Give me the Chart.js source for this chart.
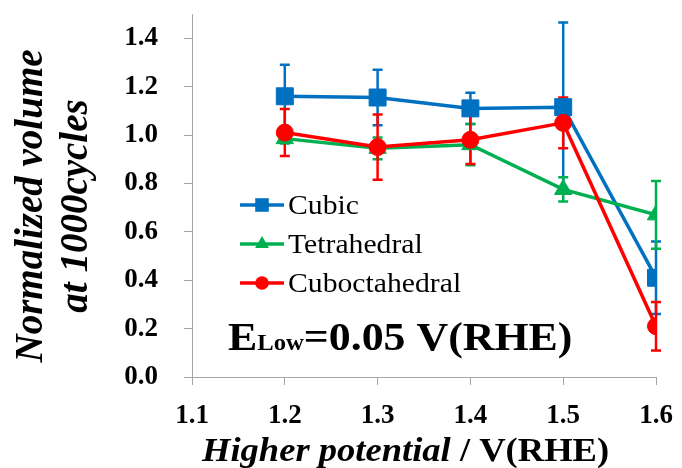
<!DOCTYPE html>
<html>
<head>
<meta charset="utf-8">
<script src="https://cdn.jsdelivr.net/npm/chart.js@4.4.1/dist/chart.umd.min.js"></script>
<style>
html, body { margin: 0; padding: 0; background: #fff; }
#wrap { width: 682px; height: 468px; }
</style>
</head>
<body>
<div id="wrap"><canvas id="volChart"></canvas></div>
<script>
// data
var potentials = [1.2, 1.3, 1.4, 1.5, 1.6];
var cubic = [1.16, 1.155, 1.11, 1.115, 0.41];
var cubicErr = [0.13, 0.115, 0.065, 0.35, 0.15];
var tetra = [0.985, 0.945, 0.96, 0.775, 0.67];
var tetraErr = [0.02, 0.045, 0.085, 0.05, 0.14];
var cubocta = [1.01, 0.95, 0.98, 1.05, 0.21];
var cuboctaErr = [0.097, 0.135, 0.1, 0.105, 0.1];
var seriesNames = ['Cubic', 'Tetrahedral', 'Cuboctahedral'];
var xTicks = [1.1, 1.2, 1.3, 1.4, 1.5, 1.6];
var yTicks = [0, 0.2, 0.4, 0.6, 0.8, 1.0, 1.2, 1.4];

var serif = '"Liberation Serif"';
var axisGray = '#a6a6a6';

function points(vals) {
	return potentials.map(function (p, i) {
		return { x: p, y: vals[i] };
	});
}

var errors = [cubicErr, tetraErr, cuboctaErr];

// error bars, drawn under the lines
var errorBars = {
	id: 'errorBars',
	beforeDatasetsDraw: function (chart) {
		var ctx = chart.ctx;
		var xs = chart.scales.x, ys = chart.scales.y;
		ctx.save();
		chart.data.datasets.forEach(function (ds, d) {
			ctx.strokeStyle = ds.borderColor;
			ctx.lineWidth = 2.5;
			ds.data.forEach(function (pt, i) {
				var px = xs.getPixelForValue(pt.x);
				var top = ys.getPixelForValue(pt.y + errors[d][i]);
				var bot = ys.getPixelForValue(pt.y - errors[d][i]);
				ctx.beginPath();
				ctx.moveTo(px, top); ctx.lineTo(px, bot);
				ctx.moveTo(px - 5, top); ctx.lineTo(px + 5, top);
				ctx.moveTo(px - 5, bot); ctx.lineTo(px + 5, bot);
				ctx.stroke();
			});
		});
		ctx.restore();
	}
};

function marker(ctx, style, x, y, r) {
	ctx.beginPath();
	if (style === 'rect') {
		var s = r * Math.SQRT1_2;
		ctx.rect(x - s, y - s, 2 * s, 2 * s);
	} else if (style === 'triangle') {
		ctx.moveTo(x, y - r);
		ctx.lineTo(x + r * 0.866, y + r / 2);
		ctx.lineTo(x - r * 0.866, y + r / 2);
		ctx.closePath();
	} else {
		ctx.arc(x, y, r, 0, Math.PI * 2);
	}
	ctx.fill();
}

// text stretched a little wider, like the original figure
function wideText(ctx, str, x, y, sx) {
	ctx.save();
	ctx.translate(x, y);
	ctx.scale(sx, 1);
	ctx.fillText(str, 0, 0);
	ctx.restore();
	return ctx.measureText(str).width * sx;
}

// legend inside the plot, titles and the E_low note
var extras = {
	id: 'extras',
	afterDraw: function (chart) {
		var ctx = chart.ctx;
		ctx.save();
		ctx.textBaseline = 'alphabetic';
		ctx.textAlign = 'left';
		var rows = [205, 244, 283];
		chart.data.datasets.forEach(function (ds, i) {
			var y = rows[i];
			ctx.strokeStyle = ds.borderColor;
			ctx.fillStyle = ds.borderColor;
			ctx.lineWidth = 3.5;
			ctx.beginPath();
			ctx.moveTo(240, y); ctx.lineTo(284, y);
			ctx.stroke();
			marker(ctx, ds.pointStyle, 262, y, ds.pointRadius * 0.8);
			ctx.fillStyle = '#000';
			ctx.font = '27px ' + serif;
			wideText(ctx, seriesNames[i], 288, y + 9, 1.1);
		});

		// E_Low = 0.05 V(RHE)
		ctx.fillStyle = '#000';
		var x = 228, base = 350;
		ctx.font = 'bold 41px ' + serif;
		x += wideText(ctx, 'E', x, base, 1.07);
		ctx.font = 'bold 23px ' + serif;
		x += wideText(ctx, 'Low', x, base, 1.07);
		ctx.font = 'bold 41px ' + serif;
		wideText(ctx, '=0.05 V(RHE)', x, base, 1.07);

		// x title
		x = 202; base = 461;
		ctx.font = 'italic bold 34px ' + serif;
		x += wideText(ctx, 'Higher potential', x, base, 1.075);
		ctx.font = 'bold 34px ' + serif;
		wideText(ctx, ' / V(RHE)', x, base, 1.075);

		// y title, two lines
		ctx.translate(0, 206);
		ctx.rotate(-Math.PI / 2);
		ctx.textAlign = 'center';
		ctx.font = 'italic bold 39px ' + serif;
		ctx.fillText('Normalized volume', 0, 42);
		ctx.fillText('at 1000cycles', 0, 87);
		ctx.restore();
	}
};

var ctx = document.getElementById('volChart').getContext('2d');
var chart = new Chart(ctx, {
	type: 'line',
	data: {
		datasets: [
			{
				label: seriesNames[0],
				data: points(cubic),
				borderColor: '#0070C0',
				backgroundColor: '#0070C0',
				pointStyle: 'rect',
				pointRadius: 12,
				order: 3
			},
			{
				label: seriesNames[1],
				data: points(tetra),
				borderColor: '#00B050',
				backgroundColor: '#00B050',
				pointStyle: 'triangle',
				pointRadius: 10,
				order: 2
			},
			{
				label: seriesNames[2],
				data: points(cubocta),
				borderColor: '#FF0000',
				backgroundColor: '#FF0000',
				pointStyle: 'circle',
				pointRadius: 8.5,
				order: 1
			}
		]
	},
	options: {
		animation: false,
		responsive: true,
		maintainAspectRatio: false,
		devicePixelRatio: 1,
		layout: { padding: { top: 14, right: 26, left: 0, bottom: 0 } },
		elements: {
			line: { borderWidth: 3.5, tension: 0, fill: false },
			point: { borderWidth: 1, hoverRadius: 8 }
		},
		plugins: {
			legend: { display: false },
			tooltip: { enabled: false }
		},
		scales: {
			x: {
				type: 'linear',
				min: 1.1,
				max: 1.6,
				afterBuildTicks: function (scale) {
					scale.ticks = xTicks.map(function (v) { return { value: v }; });
				},
				afterFit: function (scale) {
					scale.height = 91;
					scale.paddingLeft = 0;
					scale.paddingRight = 0;
				},
				ticks: {
					color: '#000',
					padding: 15,
					maxRotation: 0,
					font: { family: serif, size: 27, weight: 'bold' },
					callback: function (v) { return v.toFixed(1); }
				},
				grid: { drawOnChartArea: false, tickLength: 8, color: axisGray },
				border: { color: axisGray, width: 1 }
			},
			y: {
				min: 0,
				max: 1.5,
				afterBuildTicks: function (scale) {
					scale.ticks = yTicks.map(function (v) { return { value: v }; });
				},
				afterFit: function (scale) {
					scale.width = 192;
					scale.paddingTop = 0;
					scale.paddingBottom = 0;
				},
				ticks: {
					color: '#000',
					padding: 26,
					font: { family: serif, size: 27, weight: 'bold' },
					callback: function (v) { return v.toFixed(1); }
				},
				grid: { drawOnChartArea: false, tickLength: 8, color: axisGray },
				border: { color: axisGray, width: 1 }
			}
		}
	},
	plugins: [errorBars, extras]
});
</script>
</body>
</html>
